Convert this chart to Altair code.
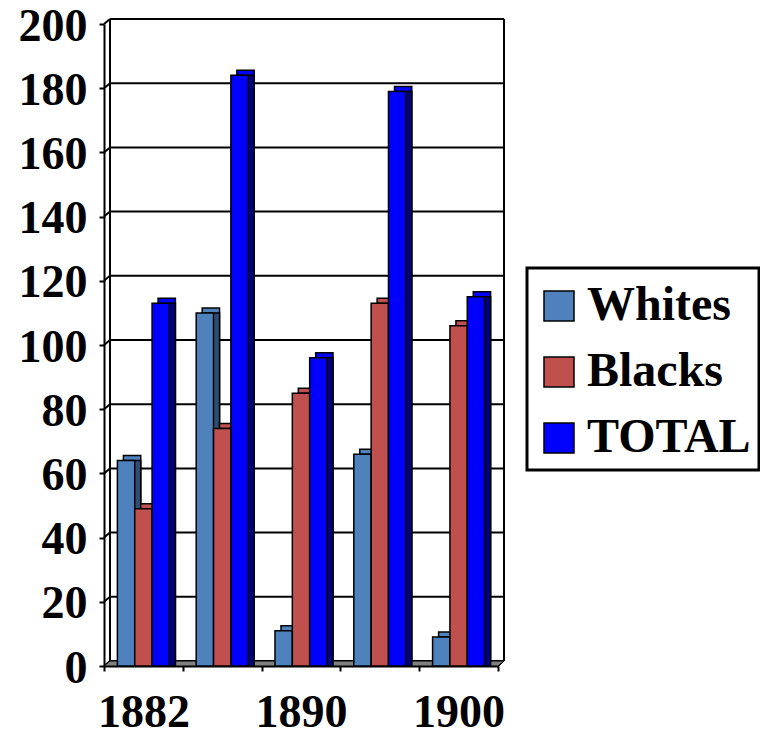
import altair as alt
import pandas as pd

years = ["1882", "1885", "1890", "1895", "1900"]
shown_years = ["1882", "1890", "1900"]
series = ["Whites", "Blacks", "TOTAL"]
whites = [64, 110, 11, 66, 9]
blacks = [49, 74, 85, 113, 106]
total = [113, 184, 96, 179, 115]
y_ticks = list(range(0, 201, 20))

front_colors = ["#4F81BD", "#C0504D", "#0000FF"]
side_colors = ["#2F4E74", "#7E3432", "#000080"]

rows = []
for s, vals in zip(series, [whites, blacks, total]):
    for yr, v in zip(years, vals):
        rows.append({"year": yr, "series": s, "value": v})
df = pd.DataFrame(rows)
grid_df = pd.DataFrame({"v": y_ticks})

W, H = 394, 642
DX, DY = 6, -5
step = W / 5
band = step * 0.66
bw = band / 3
FONT = "Liberation Serif"

label_expr = "indexof([" + ",".join("'%s'" % y for y in shown_years) + "], datum.value) >= 0 ? datum.label : ''"

x_axis = alt.Axis(
    title=None, tickBand="extent", labelExpr=label_expr, labelAngle=0,
    labelFont=FONT, labelFontSize=46, labelFontWeight="bold", labelColor="black",
    labelPadding=19, labelOverlap=False, tickSize=5, tickWidth=2, tickColor="black",
    domainColor="black", domainWidth=2, grid=False,
)
y_axis = alt.Axis(
    title=None, values=y_ticks, labelFont=FONT, labelFontSize=46, labelFontWeight="bold",
    labelColor="black", labelPadding=12, labelOffset=2, tickSize=5, tickWidth=2,
    tickColor="black", domainColor="black", domainWidth=2, grid=False,
)
x_scale = alt.Scale(paddingInner=0, paddingOuter=0)
y_scale = alt.Scale(domain=[0, 200], nice=False)

# back wall gridlines
grid = alt.Chart(grid_df).mark_rule(
    color="black", strokeWidth=2, xOffset=DX, x2Offset=DX, yOffset=DY
).encode(
    y=alt.Y("v:Q", scale=y_scale, axis=y_axis),
    x=alt.value(0), x2=alt.value(W),
)
# side wall diagonals
diag = alt.Chart(grid_df).mark_rule(
    color="black", strokeWidth=2, x2Offset=DX, y2Offset=DY
).encode(
    y=alt.Y("v:Q", scale=y_scale, axis=y_axis), y2="v:Q",
    x=alt.value(0), x2=alt.value(0),
)
left_edge = alt.Chart(grid_df).mark_rule(
    color="black", strokeWidth=2, xOffset=DX, yOffset=DY, y2Offset=DY
).encode(x=alt.value(0), y=alt.value(0), y2=alt.value(H))
right_edge = alt.Chart(grid_df).mark_rule(
    color="black", strokeWidth=2, xOffset=DX, yOffset=DY, y2Offset=DY
).encode(x=alt.value(W), y=alt.value(0), y2=alt.value(H))

floor_path = "M -1 0.0125 L 0.97 0.0125 L 1 -0.0125 L -0.97 -0.0125 Z"
floor = alt.Chart(grid_df).mark_point(
    shape=floor_path, size=(W + DX) ** 2, filled=True, fill="#808080",
    stroke="black", strokeWidth=1, opacity=1,
).encode(x=alt.value((W + DX) / 2), y=alt.value(H + DY / 2))

legend = alt.Legend(
    title=" ", titleFontSize=2, titlePadding=4,
    orient="none", legendX=423, legendY=244,
    symbolType="square", symbolSize=900, symbolStrokeColor="black",
    symbolStrokeWidth=1.5, symbolOpacity=1,
    labelFont=FONT, labelFontSize=48, labelFontWeight="bold", labelLimit=400,
    labelColor="black", labelOffset=4, rowPadding=18, padding=8,
    strokeColor="black",
)

layers = [grid, diag, left_edge, right_edge, floor]
for i, s in enumerate(series):
    off = (i - 1) * bw
    base = alt.Chart(df).transform_filter(alt.datum.series == s)
    xenc = alt.X("year:N", sort=years, scale=x_scale, axis=x_axis)
    yenc = alt.Y("value:Q", scale=y_scale, axis=y_axis)
    top = base.mark_bar(
        width=bw, xOffset=off + DX, yOffset=DY, y2Offset=DY,
        stroke="black", strokeWidth=1.5, color=front_colors[i],
    ).encode(x=xenc, y=yenc)
    side = base.mark_bar(
        width=bw, xOffset=off + DX, stroke="black", strokeWidth=1.5,
        color=side_colors[i],
    ).encode(x=xenc, y=yenc)
    front = base.mark_bar(
        width=bw, xOffset=off, stroke="black", strokeWidth=1.5,
    ).encode(
        x=xenc, y=yenc,
        color=alt.Color(
            "series:N",
            scale=alt.Scale(domain=series, range=front_colors),
            sort=series,
            legend=legend,
        ),
    )
    layers += [top, side, front]

chart = alt.layer(*layers).properties(
    width=W, height=H,
    padding={"left": 104, "top": 24, "right": 262, "bottom": 71},
    autosize="none", background="white",
).configure_view(stroke=None).configure_legend(strokeWidth=3)

chart.save("out.html", embed_options={"renderer": "svg", "actions": False})
